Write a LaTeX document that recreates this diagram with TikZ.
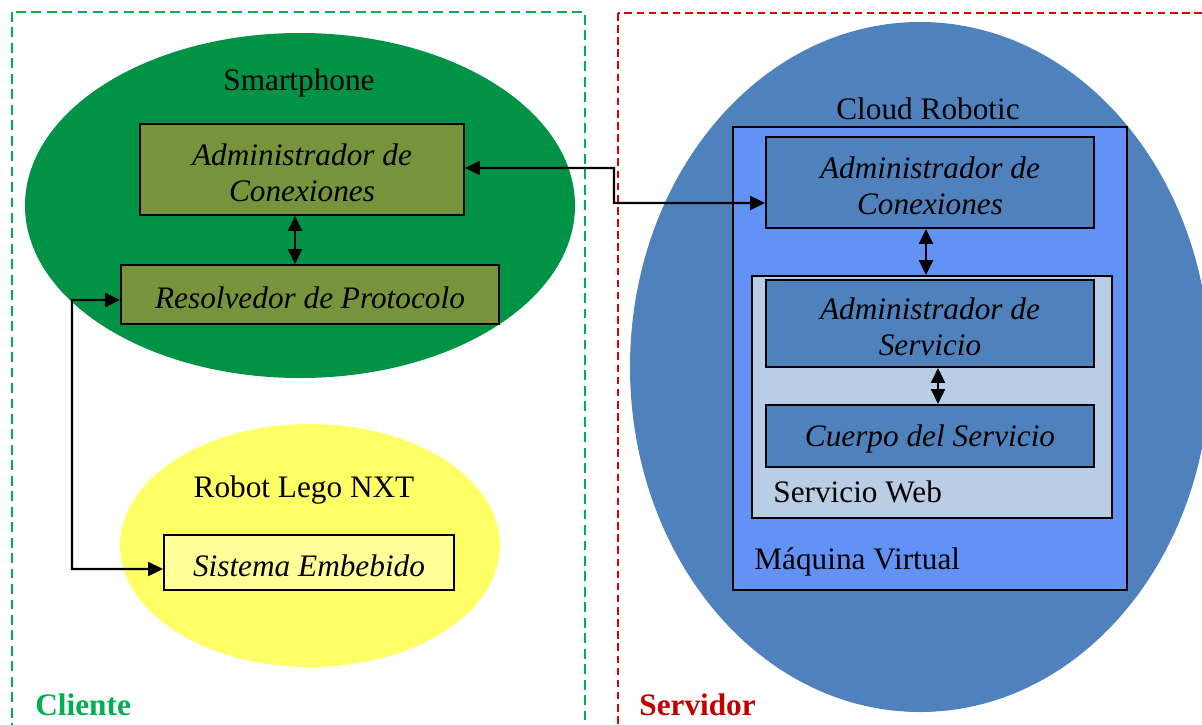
\documentclass[tikz,border=0pt]{standalone}
\usepackage{fontspec}
\setmainfont{Liberation Serif}
\usetikzlibrary{arrows.meta,calc}

\definecolor{cliGreen}{RGB}{0,176,80}
\definecolor{srvRed}{RGB}{192,0,0}
\definecolor{dashRed}{RGB}{220,0,0}
\definecolor{phoneGreen}{RGB}{0,146,69}
\definecolor{olive}{RGB}{119,147,60}
\definecolor{robotYellow}{RGB}{255,255,102}
\definecolor{paleYellow}{RGB}{255,255,153}
\definecolor{cloudBlue}{RGB}{79,129,189}
\definecolor{vmBlue}{RGB}{99,146,247}
\definecolor{wsBlue}{RGB}{185,205,229}

\newcommand{\toppad}{\rule{0pt}{16.6pt}}

\tikzset{
  txt/.style={font=\fontsize{17.8}{20.5}\selectfont, inner sep=0pt},
  comp/.style={draw=black, line width=1.2pt, align=center, inner sep=0pt,
    font=\fontsize{17.8}{20.5}\selectfont\itshape,
    execute at begin node={\rule{0pt}{16pt}}},
  container/.style={draw=black, line width=1.2pt, inner sep=0pt},
  link/.style={line width=1.2pt, {Triangle[length=8.5pt,width=8pt]}-{Triangle[length=8.5pt,width=8pt]}},
  zone/.style={line width=1.2pt},
}

\begin{document}
\begin{tikzpicture}[x=0.02cm,y=-0.02cm]
\useasboundingbox (0,0) rectangle (1202,724);
\clip (0,0) rectangle (1202,724);

% client and server zones
\draw[zone, cliGreen, dash pattern=on 5.6pt off 3.2pt] (12,12) rectangle (585,760);
\draw[zone, dashRed, line width=1pt, dash pattern=on 4.3pt off 2.6pt] (618,13) rectangle (1260,760);

% devices
\fill[phoneGreen] (300,205.5) ellipse (275 and 172.5);
\fill[robotYellow] (310,545.5) ellipse (190 and 121.5);
\fill[cloudBlue] (920,367) ellipse (290 and 345);

\node[txt] (phone) at (299,83) {Smartphone};
\node[txt] (robot) at (304,490) {Robot Lego NXT};
\node[txt] (cloud) at (928,109) {Cloud Robotic};

% client components
\node[comp, fill=olive, minimum width=6.48cm, minimum height=1.82cm] (ac1) at (302,169.5) {\toppad Administrador de\\Conexiones};
\node[comp, fill=olive, minimum width=7.56cm, minimum height=1.18cm] (rp) at (310,294.5) {Resolvedor de Protocolo};
\node[comp, fill=paleYellow, minimum width=5.8cm, minimum height=1.1cm] (se) at (309,562.5) {Sistema Embebido};

% server: virtual machine and web service
\node[container, fill=vmBlue, minimum width=7.88cm, minimum height=9.26cm] (mv) at (930,358.5) {};
\node[container, fill=wsBlue, minimum width=7.2cm, minimum height=4.84cm] (sw) at (932,397) {};
\node[comp, fill=cloudBlue, minimum width=6.56cm, minimum height=1.82cm] (ac2) at (930,182.5) {\toppad Administrador de\\Conexiones};
\node[comp, fill=cloudBlue, minimum width=6.56cm, minimum height=1.74cm] (as) at (930,323.5) {\toppad Administrador de\\Servicio};
\node[comp, fill=cloudBlue, minimum width=6.56cm, minimum height=1.24cm] (cs) at (930,436) {Cuerpo del Servicio};

\node[txt, anchor=west] (swl) at (773,492) {Servicio Web};
\node[txt, anchor=west] (mvl) at (754,562) {Máquina Virtual};

% connectors
\draw[link] ($(ac1.south)+(-7,0)$) -- ($(ac1.south |- rp.north)+(-7,0)$);
\draw[link] ($(ac2.south)+(-4,0)$) -- ($(ac2.south |- sw.north)+(-4,0)$);
\draw[link] ($(as.south)+(8,0)$) -- ($(as.south |- cs.north)+(8,0)$);
\draw[link] ($(ac1.east)+(0,-1.5)$) -- (614,168) -- (614,203) -- ($(ac2.west)+(0,20.5)$);
\draw[link] ($(rp.west)+(0,5.5)$) -- (72,300) -- (72,569) -- ($(se.west)+(0,6.5)$);

% zone labels
\node[txt, font=\fontsize{17.8}{20.5}\selectfont\bfseries, text=cliGreen, anchor=west] (cli) at (35,705) {Cliente};
\node[txt, font=\fontsize{17.8}{20.5}\selectfont\bfseries, text=srvRed, anchor=west] (srv) at (639,705) {Servidor};
\end{tikzpicture}
\end{document}
